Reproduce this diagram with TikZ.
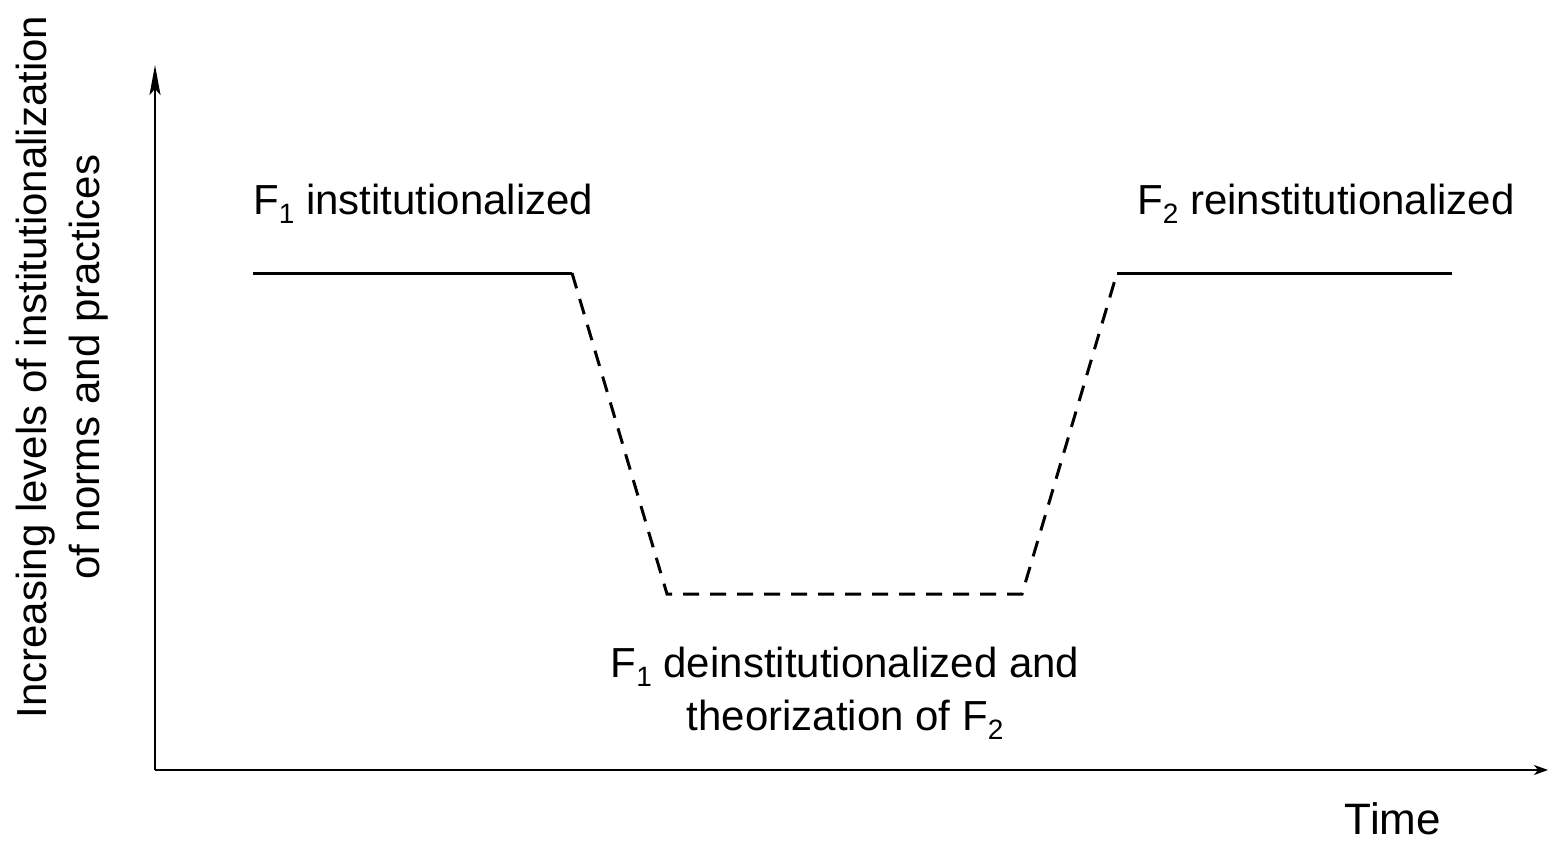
\documentclass[tikz,border=0pt]{standalone}
\usepackage{fontspec}
\setmainfont{Liberation Sans}
\usetikzlibrary{arrows.meta}
\newcommand\subtxt[1]{\raisebox{-0.22em}{\fontsize{28}{28}\selectfont #1}}
\tikzset{
  lbl/.style={font=\fontsize{42}{53}\selectfont, inner sep=0pt, align=center},
  axis/.style={line width=2pt, -{Stealth[length=30pt,width=11pt,inset=6pt]}},
  solidseg/.style={line width=3pt, line cap=butt, line join=miter},
  dashseg/.style={line width=3pt, dash pattern=on 16pt off 11pt},
}
\begin{document}
\begin{tikzpicture}[x=1pt,y=-1pt]
\useasboundingbox (0,0) rectangle (1548,843);
\coordinate (O) at (155,770);
\coordinate (Ytop) at (155,65);
\coordinate (Xend) at (1548,770);
\draw[axis] (O) -- (Ytop);
\draw[line width=2pt, -{Stealth[length=14pt,width=10pt,inset=4pt]}] (O) -- (Xend);
\coordinate (a) at (253,273);
\coordinate (b) at (572,273);
\coordinate (c) at (667,594);
\coordinate (d) at (1022,594);
\coordinate (e) at (1117,273);
\coordinate (f) at (1452,273);
\draw[solidseg] (a) -- (b);
\draw[dashseg] (b) -- (c) -- (d) -- (e);
\draw[solidseg] (e) -- (f);
\node[lbl, anchor=base west] (t1) at (253,214) {F\subtxt{1} institutionalized};
\node[lbl, anchor=base west] (t2) at (1137,214) {F\subtxt{2} reinstitutionalized};
\node[lbl, anchor=base] (t3) at (845,730) {F\subtxt{1} deinstitutionalized and\\theorization of F\subtxt{2}};
\node[lbl, font=\fontsize{44}{54}\selectfont, anchor=base] (time) at (1393,834) {Time};
\node[lbl, rotate=90] (ylab) at (62,367) {Increasing levels of institutionalization\\of norms and practices};
\end{tikzpicture}
\end{document}
